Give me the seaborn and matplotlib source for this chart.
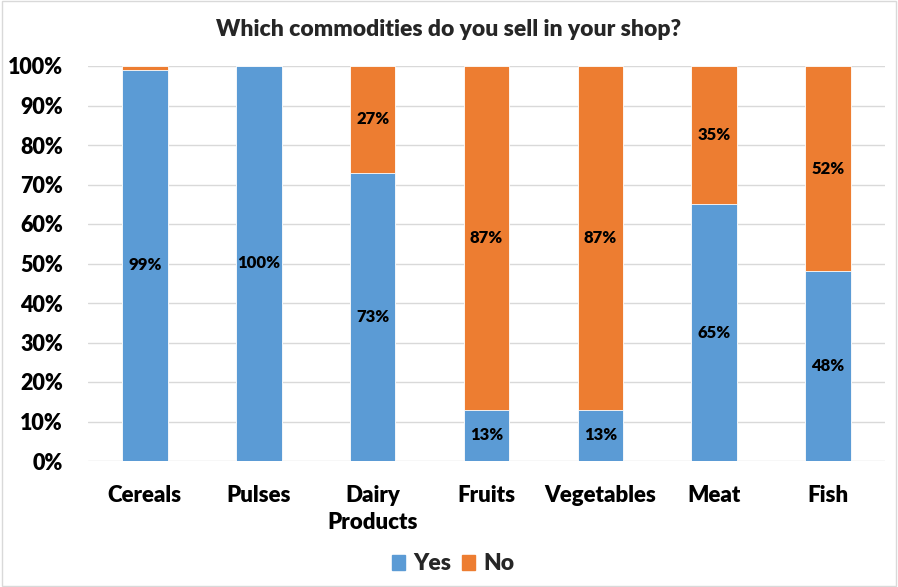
import matplotlib
matplotlib.use("Agg")
import matplotlib.pyplot as plt
import seaborn as sns
import pandas as pd
from matplotlib.patches import Rectangle

categories = ["Cereals", "Pulses", "Dairy\nProducts", "Fruits", "Vegetables", "Meat", "Fish"]
yes_pct = [99, 100, 73, 13, 13, 65, 48]
no_pct = [1, 0, 27, 87, 87, 35, 52]
yes_labels = ["99%", "100%", "73%", "13%", "13%", "65%", "48%"]
no_labels = ["", "", "27%", "87%", "87%", "35%", "52%"]
yticks = [0, 10, 20, 30, 40, 50, 60, 70, 80, 90, 100]

BLUE = "#5B9BD5"
ORANGE = "#ED7D31"
W = "heavy"

sns.set_theme(style="white")
plt.rcParams["font.family"] = ["Lato", "DejaVu Sans"]
plt.rcParams["font.weight"] = W

df = pd.DataFrame({"category": categories, "Yes": yes_pct, "No": no_pct})
df["total"] = df["Yes"] + df["No"]

fig = plt.figure(figsize=(8.98, 5.87), dpi=100)
ax = fig.add_axes([88 / 898, 1 - 461 / 587, 797 / 898, 395 / 587])

# stacked bars: draw totals (orange) first, then the Yes part on top
sns.barplot(data=df, x="category", y="total", color=ORANGE, width=0.4,
            saturation=1, ax=ax, edgecolor="white", linewidth=0.6, zorder=2)
sns.barplot(data=df, x="category", y="Yes", color=BLUE, width=0.4,
            saturation=1, ax=ax, edgecolor="white", linewidth=0.6, zorder=3)

for i, (y, n, yl, nl) in enumerate(zip(yes_pct, no_pct, yes_labels, no_labels)):
    if yl:
        ax.text(i, y / 2, yl, ha="center", va="center", fontsize=12,
                fontweight=W, color="black", zorder=5)
    if nl:
        ax.text(i, y + n / 2, nl, ha="center", va="center", fontsize=12,
                fontweight=W, color="black", zorder=5)

ax.set_xlim(-0.5, len(categories) - 0.5)
ax.set_ylim(0, 100)
ax.set_yticks(yticks)
ax.set_yticklabels([f"{t}%" for t in yticks])
ax.yaxis.grid(True, color="#D9D9D9", linewidth=1, zorder=0)
ax.set_axisbelow(True)
ax.set_xlabel("")
ax.set_ylabel("")
for s in ax.spines.values():
    s.set_visible(False)
ax.tick_params(axis="y", labelsize=15.5, pad=18, length=0)
ax.tick_params(axis="x", labelsize=16, pad=17, length=0)
for lbl in ax.get_xticklabels() + ax.get_yticklabels():
    lbl.set_fontweight(W)
    lbl.set_color("black")
for lbl in ax.get_xticklabels():
    lbl.set_linespacing(1.35)

fig.text(0.5, 1 - 30 / 587, "Which commodities do you sell in your shop?",
         ha="center", va="center", fontsize=16.5, fontweight=W)

handles = [Rectangle((0, 0), 1, 1, color=BLUE), Rectangle((0, 0), 1, 1, color=ORANGE)]
fig.legend(handles, ["Yes", "No"], loc="center", bbox_to_anchor=(453 / 898, 1 - 564 / 587),
           ncol=2, frameon=False, handlelength=0.6, handleheight=0.6,
           handletextpad=0.35, columnspacing=0.45, prop={"weight": W, "size": 16.5})

fig.patches.append(Rectangle((0.002, 0.002), 0.996, 0.996, transform=fig.transFigure,
                             fill=False, edgecolor="#D9D9D9", linewidth=1))

fig.savefig("out.png", dpi=100)
